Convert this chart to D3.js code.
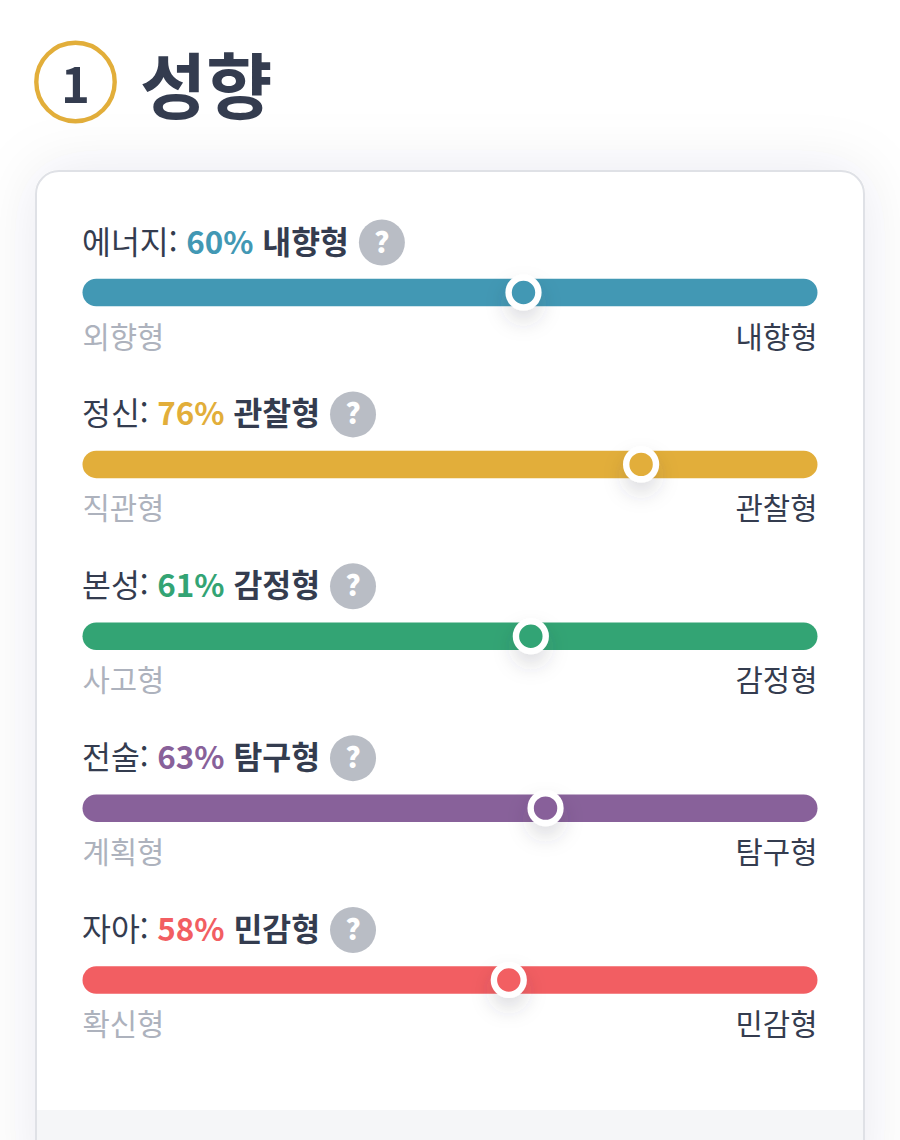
<!DOCTYPE html>
<html lang="ko"><head><meta charset="utf-8">
<script src="https://cdn.jsdelivr.net/npm/d3@7"></script>
<style>html,body{margin:0;padding:0;background:#fff}svg{display:block}
text{font-family:"Noto Sans CJK KR","Noto Sans",sans-serif}</style></head><body>
<div id="chart"></div>
<script>
const categories=["에너지","정신","본성","전술","자아"];
const values=[60,76,61,63,58];
const winners=["내향형","관찰형","감정형","탐구형","민감형"];
const leftLabels=["외향형","직관형","사고형","계획형","확신형"];
const rightLabels=["내향형","관찰형","감정형","탐구형","민감형"];
const colors=["#4298b4","#e2ae3a","#33a474","#88619a","#f25e62"];
const W=900,H=1140,ink="#343c4f",grey="#adb2bd";
const svg=d3.select("#chart").append("svg").attr("width",W).attr("height",H).attr("viewBox",`0 0 ${W} ${H}`);
const defs=svg.append("defs");
const fc=defs.append("filter").attr("id","cardShadow").attr("x","-20%").attr("y","-20%").attr("width","140%").attr("height","140%");
fc.append("feDropShadow").attr("dx",0).attr("dy",0).attr("stdDeviation",30).attr("flood-color","#343c4f").attr("flood-opacity",0.09);
const fk=defs.append("filter").attr("id","knobShadow").attr("x","-150%").attr("y","-150%").attr("width","400%").attr("height","400%");
fk.append("feDropShadow").attr("dx",0).attr("dy",11).attr("stdDeviation",10).attr("flood-color","#343c4f").attr("flood-opacity",0.17);

const x=d3.scaleLinear().domain([0,100]).range([82.5,817.5]);
const y=d3.scalePoint().domain(categories).range([292.5,980]);

// header
svg.append("circle").attr("cx",75.5).attr("cy",82).attr("r",39.2).attr("fill","#fff").attr("stroke","#e2ae3a").attr("stroke-width",4.4);
svg.append("text").attr("x",75.5).attr("y",103).attr("text-anchor","middle").attr("font-size",49).attr("font-weight",700).attr("fill",ink).text("1");
svg.append("text").attr("x",140).attr("y",113).attr("font-size",72).attr("font-weight",700).attr("fill",ink).text("성향");

// card
svg.append("rect").attr("x",36).attr("y",171).attr("width",828).attr("height",1020).attr("rx",23).attr("fill","#fff").attr("stroke","#dfe1e6").attr("stroke-width",2).attr("filter","url(#cardShadow)");
svg.append("rect").attr("x",36).attr("y",1110).attr("width",828).attr("height",30).attr("fill","#f5f6f8");
svg.append("rect").attr("x",35).attr("y",1110).attr("width",2).attr("height",30).attr("fill","#dfe1e6");
svg.append("rect").attr("x",863).attr("y",1110).attr("width",2).attr("height",30).attr("fill","#dfe1e6");

const rows=svg.selectAll("g.row").data(categories).join("g").attr("class","row").attr("transform",d=>`translate(0,${y(d)})`);
rows.each(function(cat,i){
  const g=d3.select(this);
  const title=g.append("text").attr("x",x(0)-0.5).attr("y",-39).attr("font-size",31.4).attr("fill",ink);
  title.append("tspan").text(cat+": ");
  title.append("tspan").attr("font-weight",700).attr("fill",colors[i]).text(values[i]+"% ");
  title.append("tspan").attr("font-weight",700).text(winners[i]);
  const tw=title.node().getComputedTextLength();
  const hx=x(0)+tw+32.5;
  g.append("circle").attr("cx",hx).attr("cy",-50).attr("r",23).attr("fill","#b9bdc5");
  g.append("text").attr("x",hx).attr("y",-40).attr("text-anchor","middle").attr("font-size",29).attr("font-weight",900).attr("fill","#fff").text("?");
  g.append("rect").attr("x",x(0)).attr("y",-13.75).attr("width",x(100)-x(0)).attr("height",27.5).attr("rx",13.75).attr("fill",colors[i]);
  g.append("circle").attr("cx",x(values[i])).attr("cy",0).attr("r",14.9).attr("fill",colors[i]).attr("stroke","#fff").attr("stroke-width",6.4).attr("filter","url(#knobShadow)");
  g.append("text").attr("x",x(0)).attr("y",55).attr("font-size",29.7).attr("fill",grey).text(leftLabels[i]);
  g.append("text").attr("x",x(100)).attr("y",55).attr("text-anchor","end").attr("font-size",29.7).attr("fill",ink).text(rightLabels[i]);
});
</script></body></html>
